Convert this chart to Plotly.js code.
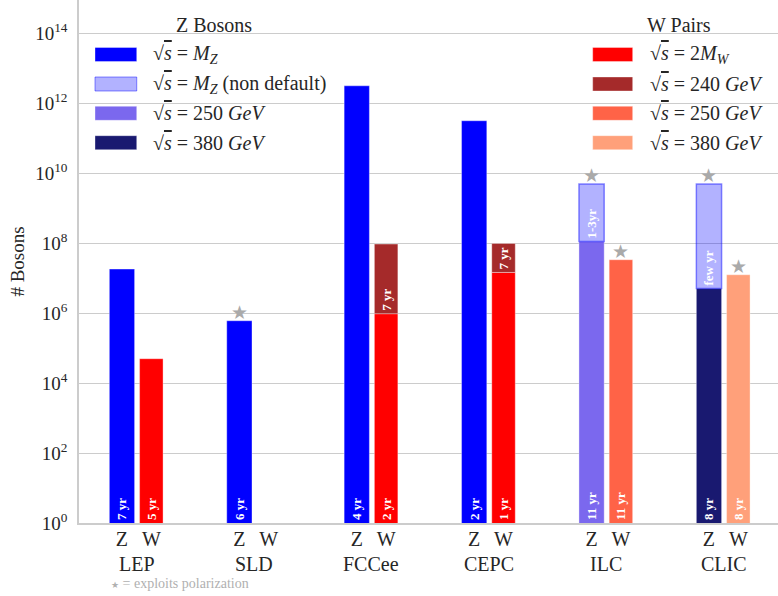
<!DOCTYPE html>
<html>
<head>
<meta charset="utf-8">
<script src="https://cdn.plot.ly/plotly-3.0.1.min.js"></script>
<style>html,body{margin:0;padding:0;background:#fff;}#chart{width:778px;height:596px;}</style>
</head>
<body>
<div id="chart"></div>
<script>
// ---------- data ----------
const groups = ['LEP', 'SLD', 'FCCee', 'CEPC', 'ILC', 'CLIC'];
const bosonLabels = ['Z', 'W'];

// Z bosons
const zMZ        = [1.83e7, 6.1e5, 3.2e12, 3.2e11, null, null];
const zMZYears   = ['7 yr', '6 yr', '4 yr', '2 yr', '', ''];
const z250       = [null, null, null, null, 1.13e8, null];
const z250Years  = ['', '', '', '', '11 yr', ''];
const z380       = [null, null, null, null, null, 5.1e6];
const z380Years  = ['', '', '', '', '', '8 yr'];
const zNonDef    = [null, null, null, null, 5.0e9, 5.0e9];
const zNonDefYears = ['', '', '', '', '1-3yr', 'few yr'];

// W pairs
const w2MW       = [5.0e4, null, 9.7e5, 1.47e7, null, null];
const w2MWYears  = ['5 yr', '', '2 yr', '1 yr', '', ''];
const w240       = [null, null, 9.5e7, 9.9e7, null, null];
const w240Years  = ['', '', '7 yr', '7 yr', '', ''];
const w250       = [null, null, null, null, 3.39e7, null];
const w250Years  = ['', '', '', '', '11 yr', ''];
const w380       = [null, null, null, null, null, 1.26e7];
const w380Years  = ['', '', '', '', '', '8 yr'];

// polarization flags
const zPolarized = [false, true, false, false, true, true];
const wPolarized = [false, false, false, false, true, true];

// legend names
const sqrtS = '√<span style="text-decoration:overline"><i>s</i></span>';
const zNames = [sqrtS + ' = <i>M<sub>Z</sub></i>',
                sqrtS + ' = <i>M<sub>Z</sub></i> (non default)',
                sqrtS + ' = 250 <i>GeV</i>',
                sqrtS + ' = 380 <i>GeV</i>'];
const wNames = [sqrtS + ' = 2<i>M<sub>W</sub></i>',
                sqrtS + ' = 240 <i>GeV</i>',
                sqrtS + ' = 250 <i>GeV</i>',
                sqrtS + ' = 380 <i>GeV</i>'];

// ---------- styles ----------
const zColors = ['#0000ff', 'rgba(0,0,255,0.3)', '#7b68ee', '#191970'];
const wColors = ['#ff0000', '#a52a2a', '#ff6347', '#ffa07a'];
const zOffset = -0.125, wOffset = 0.125;
const zWidth = 0.215, wWidth = 0.2;
const serif = '"Liberation Serif", "Times New Roman", serif';

function barTrace(values, years, bases, offset, width, color, name, lineColor, lineWidth) {
  const x = [], y = [], text = [], base = [];
  values.forEach((v, i) => {
    if (v === null) return;
    x.push(i + offset);
    y.push(v - (bases ? (bases[i] || 0) : 0));
    base.push(bases ? (bases[i] || 1) : null);
    text.push(years[i]);
  });
  const t = {
    type: 'bar', x: x, y: y, name: name, width: width,
    text: text, textposition: 'inside', insidetextanchor: 'start', textangle: -90,
    constraintext: 'none',
    insidetextfont: {family: serif, size: 13, color: '#ffffff', weight: 'bold'},
    marker: {color: color, line: {color: lineColor || 'rgba(255,255,255,0.35)', width: lineWidth || 1}},
    showlegend: false, hoverinfo: 'x+y'
  };
  if (bases) t.base = base;
  return t;
}

function maxOf(arrs, i) {
  let m = null;
  arrs.forEach(a => { if (a[i] !== null && (m === null || a[i] > m)) m = a[i]; });
  return m;
}
const zDarkTop = groups.map((g, i) => maxOf([z250, z380], i));

const traces = [
  barTrace(zMZ, zMZYears, null, zOffset, zWidth, zColors[0], 'Z MZ'),
  barTrace(z250, z250Years, null, zOffset, zWidth, zColors[2], 'Z 250'),
  barTrace(z380, z380Years, null, zOffset, zWidth, zColors[3], 'Z 380'),
  barTrace(zNonDef, zNonDefYears, zDarkTop, zOffset, zWidth, zColors[1], 'Z MZ non default', 'rgba(0,0,255,0.45)', 1.5),
  barTrace(w2MW, w2MWYears, null, wOffset, wWidth, wColors[0], 'W 2MW'),
  barTrace(w240, w240Years, w2MW, wOffset, wWidth, wColors[1], 'W 240'),
  barTrace(w250, w250Years, null, wOffset, wWidth, wColors[2], 'W 250'),
  barTrace(w380, w380Years, null, wOffset, wWidth, wColors[3], 'W 380')
];

// ---------- axes ticks ----------
const xTickVals = [], xTickText = [];
groups.forEach((g, i) => {
  xTickVals.push(i + zOffset); xTickText.push(bosonLabels[0]);
  xTickVals.push(i + wOffset); xTickText.push(bosonLabels[1]);
});
const yExps = [0, 2, 4, 6, 8, 10, 12, 14];
const yTickVals = yExps.map(e => Math.pow(10, e));
const yTickText = yExps.map(e => '10<sup>' + e + '</sup>');

// ---------- annotations & shapes ----------
const annotations = [];
const shapes = [];
groups.forEach((g, i) => {
  annotations.push({x: i, xref: 'x', y: -0.0775, yref: 'paper', text: g, showarrow: false,
    xanchor: 'center', yanchor: 'middle', font: {family: serif, size: 20, color: '#262626'}});
});
// polarization stars
const starFont = {family: 'DejaVu Sans', size: 19, color: '#aaaaaa'};
groups.forEach((g, i) => {
  if (zPolarized[i]) {
    const top = maxOf([zMZ, z250, z380, zNonDef], i);
    annotations.push({x: i + zOffset, y: Math.log10(top), xref: 'x', yref: 'y', text: '★', showarrow: false,
      yanchor: 'middle', yshift: 9, font: starFont});
  }
  if (wPolarized[i]) {
    const top = maxOf([w2MW, w240, w250, w380], i);
    annotations.push({x: i + wOffset, y: Math.log10(top), xref: 'x', yref: 'y', text: '★', showarrow: false,
      yanchor: 'middle', yshift: 9, font: starFont});
  }
});
annotations.push({x: 0.043, xref: 'paper', y: -0.115, yref: 'paper',
  text: '<span style="font-family:DejaVu Sans;font-size:9px">★</span> = exploits polarization',
  showarrow: false, xanchor: 'left', yanchor: 'middle', font: {family: serif, size: 14, color: '#b0b0b0'}});

// custom legends
const legendFont = {family: serif, size: 20, color: '#262626'};
const legendRowsPx = [54.5, 84, 113.3, 142.7];
const plotH = 523;
function legendBlock(title, titleX, names, colors, lines, sx0, sx1, tx) {
  annotations.push({x: titleX, xref: 'paper', y: (plotH - 25) / plotH, yref: 'paper', text: title,
    showarrow: false, xanchor: 'center', yanchor: 'middle', font: legendFont});
  names.forEach((n, k) => {
    const yc = (plotH - legendRowsPx[k]) / plotH;
    shapes.push({type: 'rect', xref: 'paper', yref: 'paper', x0: sx0, x1: sx1,
      y0: yc - 7 / plotH, y1: yc + 7 / plotH, fillcolor: colors[k],
      line: {color: lines[k], width: 1}});
    annotations.push({x: tx, xref: 'paper', y: yc, yref: 'paper', text: n, showarrow: false,
      xanchor: 'left', yanchor: 'middle', font: legendFont});
  });
}
const plainEdge = 'rgba(255,255,255,0.35)';
legendBlock('Z Bosons', 0.1927, zNames, zColors,
  [plainEdge, 'rgba(0,0,255,0.45)', plainEdge, plainEdge],
  0.0229, 0.0826, 0.1035);
legendBlock('W Pairs', 0.8584, wNames, wColors,
  [plainEdge, plainEdge, plainEdge, plainEdge],
  0.7349, 0.7921, 0.8136);

const layout = {
  width: 778, height: 596,
  margin: {l: 79, r: 0, t: 0, b: 73, pad: 0},
  paper_bgcolor: '#ffffff', plot_bgcolor: '#ffffff',
  barmode: 'overlay',
  showlegend: false,
  font: {family: serif, size: 18, color: '#262626'},
  xaxis: {
    range: [-0.491, 5.463], tickvals: xTickVals, ticktext: xTickText,
    showgrid: false, zeroline: false, showline: true, linecolor: '#cccccc', linewidth: 1.5,
    ticks: '', ticklabelstandoff: -3, tickfont: {family: serif, size: 20, color: '#262626'}
  },
  yaxis: {
    type: 'log', range: [0, 14.96], tickvals: yTickVals, ticktext: yTickText,
    showgrid: true, gridcolor: '#cccccc', gridwidth: 1.2, zeroline: false,
    showline: true, linecolor: '#cccccc', linewidth: 1.5,
    ticks: '', ticklabelstandoff: 6, tickfont: {family: serif, size: 19, color: '#262626'},
    title: {text: '# Bosons', standoff: 6, font: {family: serif, size: 19, color: '#262626'}}
  },
  annotations: annotations,
  shapes: shapes
};

Plotly.newPlot('chart', traces, layout, {displayModeBar: false});
</script>
</body>
</html>
